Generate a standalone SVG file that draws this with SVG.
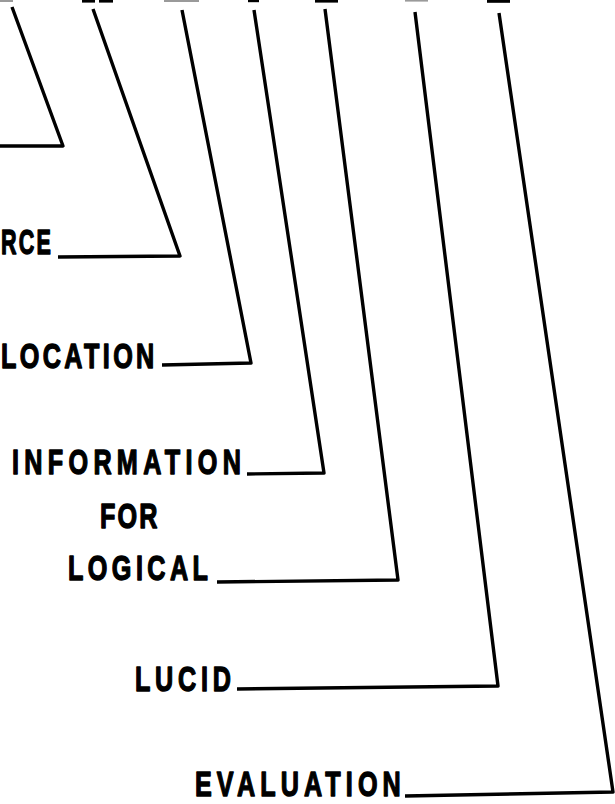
<svg xmlns="http://www.w3.org/2000/svg" width="615" height="804" viewBox="0 0 615 804">
<style>
  .lbl { font-family: "Liberation Sans", Arial, sans-serif; font-weight: bold; font-size: 36px; fill: #000; stroke: #000; stroke-width: 1.4; stroke-linejoin: round; }
  .conn { fill: none; stroke: #000; stroke-width: 3.4; stroke-linejoin: round; stroke-linecap: butt; }
  .stub { fill: #000; }
  .stubg { fill: #9a9a9a; }
</style>
<rect width="615" height="804" fill="#fff"/>
<g id="top-stubs">
  <rect class="stubg" x="0" y="0" width="13" height="2"/>
  <rect class="stub" x="82" y="0" width="13" height="2.6"/>
  <rect class="stub" x="99" y="0" width="14" height="2.6"/>
  <rect class="stubg" x="164" y="0" width="35" height="2"/>
  <rect class="stub" x="248" y="0" width="11" height="2.2"/>
  <rect class="stub" x="315" y="0" width="23" height="2.6"/>
  <rect class="stubg" x="405" y="0" width="23" height="1.6"/>
  <rect class="stub" x="487" y="0" width="23" height="2.8"/>
</g>
<g id="connectors">
  <polyline class="conn" points="12,7 63,146 0,146"/>
  <polyline class="conn" points="93,9 180,256 58,257"/>
  <polyline class="conn" points="182,10 251,363 162,365"/>
  <polyline class="conn" points="254,10 324,473 247,474"/>
  <polyline class="conn" points="325,9 398,580 217,582"/>
  <polyline class="conn" points="415,12 498,686 237,689"/>
  <polyline class="conn" points="499,13 613,792 405,796"/>
</g>
<g id="node-rce" transform="translate(1,254) scale(0.6,1)">
  <text class="lbl" x="0" y="0" textLength="83" lengthAdjust="spacing">RCE</text>
</g>
<g id="node-location" transform="translate(1,368) scale(0.7,1)">
  <text class="lbl" x="0" y="0" textLength="219" lengthAdjust="spacing">LOCATION</text>
</g>
<g id="node-information" transform="translate(12,474) scale(0.7,1)">
  <text class="lbl" x="0" y="0" textLength="327" lengthAdjust="spacing">INFORMATION</text>
</g>
<g id="node-for" transform="translate(100,528) scale(0.7,1)">
  <text class="lbl" x="0" y="0" textLength="82" lengthAdjust="spacing">FOR</text>
</g>
<g id="node-logical" transform="translate(68,580) scale(0.7,1)">
  <text class="lbl" x="0" y="0" textLength="200" lengthAdjust="spacing">LOGICAL</text>
</g>
<g id="node-lucid" transform="translate(135,691) scale(0.7,1)">
  <text class="lbl" x="0" y="0" textLength="137" lengthAdjust="spacing">LUCID</text>
</g>
<g id="node-evaluation" transform="translate(195,796) scale(0.7,1)">
  <text class="lbl" x="0" y="0" textLength="294" lengthAdjust="spacing">EVALUATION</text>
</g>
</svg>
